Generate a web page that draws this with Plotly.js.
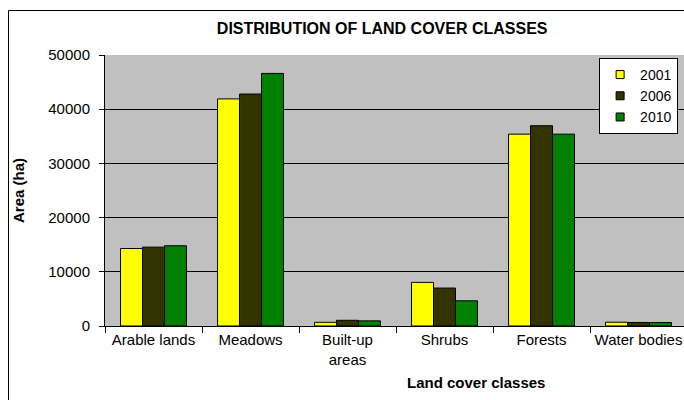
<!DOCTYPE html>
<html>
<head>
<meta charset="utf-8">
<script src="https://cdn.plot.ly/plotly-3.0.1.min.js"></script>
<style>
  html, body { margin: 0; padding: 0; background: #fff; overflow: hidden; }
  #chart { width: 700px; height: 400px; }
</style>
</head>
<body>
<div id="chart"></div>
<script>
const categories = ["Arable lands", "Meadows", "Built-up<br>areas", "Shrubs", "Forests", "Water bodies"];
const years = ["2001", "2006", "2010"];
const area2001 = [14300, 41900, 680, 8050, 35400, 700];
const area2006 = [14550, 42800, 1050, 7000, 36950, 650];
const area2010 = [14800, 46600, 950, 4650, 35400, 650];
const yTicks = [0, 10000, 20000, 30000, 40000, 50000];
const colors = ["#ffff00", "#333300", "#008000"];

const series = [area2001, area2006, area2010];
const traces = series.map((vals, i) => ({
  type: "bar",
  name: years[i],
  showlegend: false,
  x: categories,
  y: vals,
  marker: { color: colors[i], line: { color: "#000000", width: 1 } },
  hoverinfo: "skip"
}));
// legend entries with small square keys, as in the original
years.forEach((yr, i) => {
  traces.push({
    type: "scatter",
    mode: "markers",
    name: yr,
    x: [null],
    y: [null],
    marker: { symbol: "square", size: 8, color: colors[i], line: { color: "#000000", width: 1 } },
    hoverinfo: "skip"
  });
});

const font = "Liberation Sans, Arial, sans-serif";

const layout = {
  width: 700,
  height: 400,
  margin: { l: 105, r: 13, t: 55, b: 74 },
  paper_bgcolor: "#ffffff",
  plot_bgcolor: "#c0c0c0",
  font: { family: font, size: 14, color: "#000000" },
  barmode: "group",
  bargap: 0.32,
  bargroupgap: 0,
  showlegend: true,
  title: {
    text: "<b>DISTRIBUTION OF LAND COVER CLASSES</b>",
    font: { family: font, size: 16, color: "#000000" },
    xref: "container", yref: "container",
    x: 0.546, y: 0.93, xanchor: "center", yanchor: "middle"
  },
  xaxis: {
    type: "category",
    range: [-0.5, 5.5],
    tickson: "boundaries",
    ticks: "outside",
    ticklen: 6,
    tickcolor: "#000000",
    showline: true,
    linecolor: "#000000",
    linewidth: 1,
    showgrid: false,
    tickfont: { family: font, size: 15, color: "#000000" },
    fixedrange: true
  },
  yaxis: {
    range: [0, 50000],
    tickvals: yTicks,
    tickformat: "d",
    ticks: "outside",
    ticklen: 5,
    tickcolor: "#000000",
    showline: true,
    linecolor: "#000000",
    linewidth: 1,
    showgrid: true,
    gridcolor: "#000000",
    gridwidth: 1,
    zeroline: false,
    ticklabelstandoff: 6,
    tickfont: { family: font, size: 15, color: "#000000" },
    title: {
      text: "<b>Area (ha)</b>",
      font: { family: font, size: 15, color: "#000000" },
      standoff: 20
    },
    fixedrange: true
  },
  legend: {
    x: 0.849, y: 0.989, xanchor: "left", yanchor: "top",
    bgcolor: "#ffffff",
    bordercolor: "#000000",
    borderwidth: 1,
    tracegroupgap: 0,
    font: { family: font, size: 14, color: "#000000" }
  },
  annotations: [{
    text: "<b>Land cover classes</b>",
    xref: "paper", yref: "paper",
    x: 0.637, y: -0.209,
    xanchor: "center", yanchor: "middle",
    showarrow: false,
    font: { family: font, size: 15, color: "#000000" }
  }],
  shapes: [{
    type: "rect",
    xref: "paper", yref: "paper",
    x0: -0.1658, x1: 1.2, y0: -0.5, y1: 1.1642,
    line: { color: "#000000", width: 1 },
    fillcolor: "rgba(0,0,0,0)",
    layer: "below"
  }]
};

Plotly.newPlot("chart", traces, layout, { displayModeBar: false, staticPlot: true });
</script>
</body>
</html>
